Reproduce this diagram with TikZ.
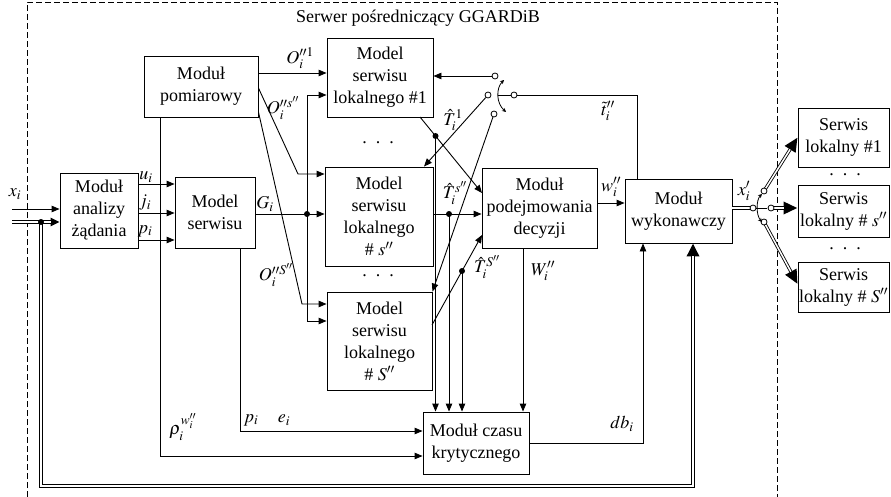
\documentclass[tikz,border=0pt]{standalone}
\usepackage{mathptmx}
\usepackage[no-math]{fontspec}
\setmainfont{Liberation Serif}
\newfontfamily\tnr{Liberation Serif}
\usetikzlibrary{arrows.meta,calc}
\begin{document}
\begin{tikzpicture}[x=1pt,y=-1pt,
  every node/.style={font=\tnr\fontsize{18}{22}\selectfont},
  blk/.style={draw,line width=0.9pt,align=center,inner sep=0pt,fill=white},
  ln/.style={line width=0.9pt},
  arr/.style={ln,-{Triangle[length=8pt,width=6.5pt]}},
  dblo/.style={line width=3.2pt},
  dbli/.style={white,line width=1.5pt},
  dot/.style={circle,fill,inner sep=0pt,minimum size=6pt},
  cnt/.style={circle,draw,fill=white,line width=0.8pt,inner sep=0pt,minimum size=6pt},
  lab/.style={inner sep=0pt},
  bendarr/.style={line width=0.8pt,{Stealth[length=4pt,width=4pt]}-{Stealth[length=4pt,width=4pt]}}
]
\useasboundingbox (0,0) rectangle (891,497);

% frame
\draw[ln,dash pattern=on 6pt off 3pt] (27,497) -- (27,2) -- (777,2) -- (777,497);
\node[lab] (title) at (418,18) {Serwer pośredniczący GGARDiB};

% blocks
\node[blk,minimum width=78pt,minimum height=75pt] (ana) at (99,210.5) {Moduł\\analizy\\żądania};
\node[blk,minimum width=114pt,minimum height=61pt] (pom) at (201,86.5) {Moduł\\pomiarowy};
\node[blk,minimum width=80pt,minimum height=71pt] (ser) at (215,212.5) {Model\\serwisu};
\node[blk,minimum width=106pt,minimum height=79pt] (m1) at (380,77.5) {Model\\serwisu\\lokalnego \#1};
\node[blk,minimum width=108pt,minimum height=99pt] (ms) at (379,216.5) {Model\\serwisu\\lokalnego\\\# $s''$};
\node[blk,minimum width=105pt,minimum height=98pt] (mS) at (379.5,341) {Model\\serwisu\\lokalnego\\\# $S''$};
\node[blk,minimum width=115pt,minimum height=80pt] (dec) at (539.5,208) {Moduł\\podejmowania\\decyzji};
\node[blk,minimum width=107pt,minimum height=64pt] (wyk) at (678.5,211) {Moduł\\wykonawczy};
\node[blk,minimum width=106pt,minimum height=62pt] (czas) at (476,443) {Moduł czasu\\krytycznego};
\node[blk,minimum width=91pt,minimum height=59pt] (s1) at (843.5,137.5) {Serwis\\lokalny \#1};
\node[blk,minimum width=91pt,minimum height=52pt] (ss) at (843.5,211) {Serwis\\lokalny \# $s''$};
\node[blk,minimum width=91pt,minimum height=50pt] (sS) at (843.5,287) {Serwis\\lokalny \# $S''$};

% dots (ellipses)
\node[lab] (e1) at (378,143) {.\ \ .\ \ .};
\node[lab] (e2) at (378,276) {.\ \ .\ \ .};
\node[lab] (e3) at (845,175) {.\ \ .\ \ .};
\node[lab] (e4) at (845,249) {.\ \ .\ \ .};

% inputs
\coordinate (xin) at (12,209);
\coordinate (xin2) at (12,222);
\draw[arr] (xin) -- (ana.west |- xin);
\draw[dblo,-{Triangle[length=9pt,width=8pt]}] (xin2) -- (ana.west |- xin2);
\draw[dbli,shorten >=9pt] (xin2) -- (ana.west |- xin2);
\coordinate (fd) at (41,222);
\draw[dblo,-{Triangle[length=13pt,width=12pt]}] (fd) -- (41,486) -- (693,486) -- (693,0 |- wyk.south);
\draw[dbli,shorten >=13pt] (fd) -- (41,486) -- (693,486) -- (693,0 |- wyk.south);
\node[dot] (fdot) at (fd) {};

% analiza -> model serwisu
\draw[arr] (ana.east |- 0,184) -- (ser.west |- 0,184);
\draw[arr] (ana.east |- 0,213) -- (ser.west |- 0,213);
\draw[arr] (ana.east |- 0,240) -- (ser.west |- 0,240);

% pomiarowy vertical -> czas
\draw[arr] (160,0 |- pom.south) -- (160,456) -- (czas.west |- 0,456);
% model serwisu -> czas
\draw[arr] (240,0 |- ser.south) -- (240,431) -- (czas.west |- 0,431);

% pomiarowy -> local models
\draw[arr] (pom.east |- 0,73) -- (m1.west |- 0,73);
\draw[arr] (pom.east |- 0,88) -- (298,174) -- (ms.west |- 0,174);
\draw[arr] (pom.east |- 0,112) -- (302,304) -- (mS.west |- 0,304);

% G
\coordinate (gd) at (307,214);
\draw[arr] (ser.east |- gd) -- (ms.west |- gd);
\draw[arr] (gd) -- (307,95) -- (m1.west |- 0,95);
\draw[arr] (gd) -- (307,321) -- (mS.west |- 0,321);
\node[dot] (gdot) at (gd) {};

% T hat lines
\coordinate (t1s) at (420,117);
\coordinate (t1e) at (482,193);
\draw[arr] (t1s) -- (t1e);
\path (t1s) -- (t1e) coordinate[pos=0.25] (d1);
\draw[arr] (d1) -- (d1 |- czas.north);
\node[dot] (d1dot) at (d1) {};

\coordinate (d2) at (449,214);
\draw[arr] (ms.east |- d2) -- (dec.west |- d2);
\draw[arr] (d2) -- (d2 |- czas.north);
\node[dot] (d2dot) at (d2) {};

\coordinate (t3s) at (432,325);
\coordinate (t3e) at (482,235);
\draw[arr] (t3s) -- (t3e);
\path (t3s) -- (t3e) coordinate[pos=0.6] (d3);
\draw[arr] (d3) -- (d3 |- czas.north);
\node[dot] (d3dot) at (d3) {};

% decision
\draw[arr] (523,0 |- dec.south) -- (523,0 |- czas.north);
\draw[arr] (dec.east |- 0,203) -- (wyk.west |- 0,203);
\draw[arr] (czas.east |- 0,443) -- (643,443) -- (643,0 |- wyk.south);

% switch 1
\node[cnt] (c1) at (495,76) {};
\node[cnt] (c2) at (488,95) {};
\node[cnt] (c3) at (494,114) {};
\node[cnt] (p1) at (514,95) {};
\draw[arr] (c1) -- (m1.east |- c1);
\draw[arr] (c2) -- (424,0 |- ms.north);
\draw[arr] (c3) -- (mS.north east);
\draw[ln] (p1.west) -- (498,95);
\draw[bendarr] (504,80) .. controls (496,88) and (496,103) .. (506,112);
\draw[ln] (p1.east) -- (637,95) -- (637,0 |- wyk.north);

% switch 2 (output)
\coordinate (p2c) at (753,208);
\draw[dblo] (wyk.east |- p2c) -- (p2c);
\draw[dbli] (wyk.east |- p2c) -- (p2c);
\node[cnt] (p2) at (p2c) {};
\coordinate (k1c) at (764,191);
\coordinate (k2c) at (771,208);
\coordinate (k3c) at (764,222);
\draw[dblo,-{Triangle[length=14pt,width=12pt]}] (k1c) -- (s1.west);
\draw[dbli,shorten >=14pt] (k1c) -- (s1.west);
\draw[dblo,-{Triangle[length=14pt,width=12pt]}] (k2c) -- (ss.west |- k2c);
\draw[dbli,shorten >=14pt] (k2c) -- (ss.west |- k2c);
\draw[dblo,-{Triangle[length=14pt,width=12pt]}] (k3c) -- (sS.west |- 0,284);
\draw[dbli,shorten >=14pt] (k3c) -- (sS.west |- 0,284);
\node[cnt] (k1) at (k1c) {};
\node[cnt] (k2) at (k2c) {};
\node[cnt] (k3) at (k3c) {};
\draw[ln] (p2.east) -- (767,208);
\draw[bendarr] (762,194) .. controls (756,200) and (756,215) .. (762,222);

% labels
\node[lab] (lx) at (15,194) {$x_i$};
\node[lab] (lu) at (146,177) {$u_i$};
\node[lab] (lj) at (145,203) {$j_i$};
\node[lab] (lp) at (145,231) {$p_i$};
\node[lab] (lO1) at (300,58) {$O_i^{\prime\prime 1}$};
\node[lab] (lOs) at (283,108) {$O_i^{\prime\prime s''}$};
\node[lab] (lOS) at (276,275) {$O_i^{\prime\prime S''}$};
\node[lab] (lG) at (265,204) {$G_i$};
\node[lab] (lrho) at (183,427) {$\rho_i^{w_i''}$};
\node[lab] (lp2) at (251,420) {$p_i$};
\node[lab] (le) at (284,420) {$e_i$};
\node[lab] (lT1) at (453,120) {$\hat{T}_i^{1}$};
\node[lab] (lTs) at (455,193) {$\hat{T}_i^{s''}$};
\node[lab] (lTS) at (487,267) {$\hat{T}_i^{S''}$};
\node[lab] (lW) at (543,271) {$W_i''$};
\node[lab] (lw) at (611,187) {$w_i''$};
\node[lab] (ldb) at (622,424) {$db_i$};
\node[lab] (lt) at (608,111) {$\tilde{t}_i''$};
\node[lab] (lxp) at (744,191) {$x_i'$};
\end{tikzpicture}
\end{document}
